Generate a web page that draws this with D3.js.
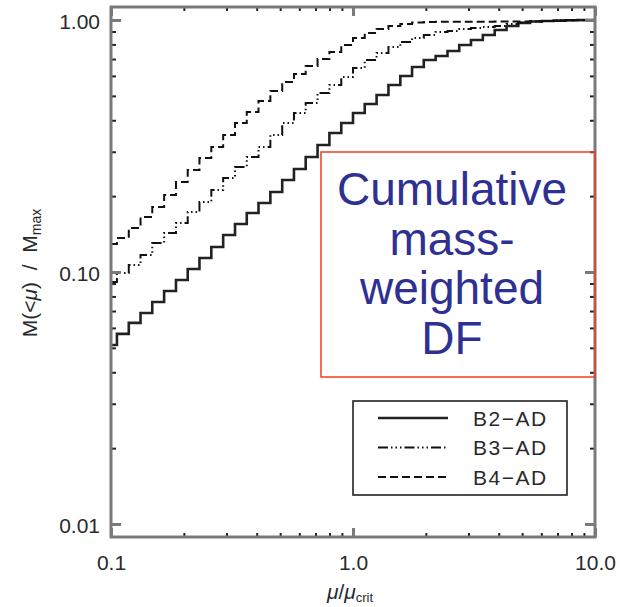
<!DOCTYPE html>
<html>
<head>
<meta charset="utf-8">
<script src="https://cdn.jsdelivr.net/npm/d3@7"></script>
<style>
  html, body { margin: 0; padding: 0; background: #fff; }
  svg { display: block; font-family: "Liberation Sans", Arial, sans-serif; }
</style>
</head>
<body>
<svg id="chart" width="620" height="607"></svg>
<script>
// log10(mu/mu_crit) of the histogram points
const logMu = [
  -1.000, -0.951, -0.902, -0.854, -0.805, -0.756, -0.707, -0.659, -0.610, -0.561,
  -0.512, -0.463, -0.415, -0.366, -0.317, -0.268, -0.220, -0.171, -0.122, -0.073,
  -0.024,  0.024,  0.073,  0.122,  0.171,  0.220,  0.268,  0.317,  0.366,  0.415,
   0.463,  0.512,  0.561,  0.610,  0.659,  0.707,  0.756,  0.805,  0.854,  0.902,
   0.951,  1.000
];

// M(<mu)/Mmax for each run
const b2ad = [
  0.0513, 0.0568, 0.0628, 0.0688, 0.0760, 0.0841, 0.0930, 0.1028, 0.1137, 0.1257,
  0.1402, 0.1550, 0.1714, 0.1878, 0.2077, 0.2318, 0.2563, 0.2860, 0.3191, 0.3560,
  0.3902, 0.4275, 0.4642, 0.5040, 0.5522, 0.5995, 0.6510, 0.6939, 0.7197, 0.7534,
  0.7962, 0.8329, 0.8720, 0.9128, 0.9467, 0.9730, 0.9864, 0.9909, 0.9945, 0.9973,
  0.9991, 1.0000
];
const b3ad = [
  0.0913, 0.0991, 0.1066, 0.1168, 0.1303, 0.1428, 0.1564, 0.1730, 0.1896, 0.2115,
  0.2360, 0.2610, 0.2860, 0.3133, 0.3496, 0.3902, 0.4275, 0.4686, 0.5133, 0.5522,
  0.5941, 0.6451, 0.6939, 0.7397, 0.7815, 0.8178, 0.8484, 0.8720, 0.8960, 0.9044,
  0.9211, 0.9295, 0.9381, 0.9467, 0.9641, 0.9774, 0.9864, 0.9909, 0.9945, 0.9973,
  0.9991, 1.0000
];
const b4ad = [
  0.1292, 0.1364, 0.1495, 0.1653, 0.1811, 0.2020, 0.2276, 0.2539, 0.2834, 0.3133,
  0.3496, 0.3902, 0.4314, 0.4771, 0.5228, 0.5675, 0.6105, 0.6569, 0.7003, 0.7465,
  0.7962, 0.8484, 0.8879, 0.9211, 0.9467, 0.9641, 0.9774, 0.9819, 0.9830, 0.9840,
  0.9840, 0.9850, 0.9850, 0.9860, 0.9860, 0.9870, 0.9880, 0.9910, 0.9940, 0.9970,
  0.9990, 1.0000
];

const seriesNames = ['B2\u2212AD', 'B3\u2212AD', 'B4\u2212AD'];

const xMajor = [0.1, 1, 10];
const xMajorLabels = ['0.1', '1.0', '10.0'];
const xMinor = [0.2, 0.3, 0.4, 0.5, 0.6, 0.7, 0.8, 0.9, 2, 3, 4, 5, 6, 7, 8, 9];
const yMajor = [0.01, 0.1, 1];
const yMajorLabels = ['0.01', '0.10', '1.00'];
const yMinor = [0.02, 0.03, 0.04, 0.05, 0.06, 0.07, 0.08, 0.09, 0.2, 0.3, 0.4, 0.5, 0.6, 0.7, 0.8, 0.9];

const noteLines = ['Cumulative', 'mass-', 'weighted', 'DF'];

// plot box
const L = 111, R = 595, T = 7, B = 537;
const AXIS_GRAY = '#7a7a7a';
const TEXT = '#2a2a2a';

const svg = d3.select('#chart');

const x = d3.scaleLog().domain([0.1, 10]).range([L, R]);
// y range is a little wider than 0.01..1 (IDL style padding)
const y = d3.scaleLog().domain([0.008881, 1.1260]).range([B, T]);

const styles = [
  { stroke: '#222', width: 2.6, dash: null },
  { stroke: '#111', width: 2, dash: '10,3,1.5,3,1.5,3,1.5,3' },
  { stroke: '#111', width: 2, dash: '8,4' }
];
const allSeries = [b2ad, b3ad, b4ad];

// curves (histogram-style steps)
const line = d3.line()
  .x(d => x(d.mu))
  .y(d => y(d.v))
  .curve(d3.curveStep);

allSeries.forEach((vals, k) => {
  const pts = vals.map((v, i) => ({ mu: Math.pow(10, logMu[i]), v }));
  svg.append('path')
    .datum(pts)
    .attr('fill', 'none')
    .attr('stroke', styles[k].stroke)
    .attr('stroke-width', styles[k].width)
    .attr('stroke-dasharray', styles[k].dash)
    .attr('d', line);
});

// ticks
function tickAxis(axisFn, scale, values, size, transform) {
  const g = svg.append('g')
    .attr('transform', transform)
    .call(axisFn(scale).tickValues(values).tickSize(size).tickFormat(''));
  g.select('.domain').remove();
  return g;
}

const minorStyle = g => g.selectAll('line').attr('stroke', '#222').attr('stroke-width', 2);
const majorStyle = g => g.selectAll('line').attr('stroke', AXIS_GRAY).attr('stroke-width', 3);

// minor ticks on all four sides
minorStyle(tickAxis(d3.axisBottom, x, xMinor, -4, `translate(0,${B})`));
minorStyle(tickAxis(d3.axisTop, x, xMinor, -4, `translate(0,${T})`));
minorStyle(tickAxis(d3.axisLeft, y, yMinor, -5, `translate(${L},0)`));
minorStyle(tickAxis(d3.axisRight, y, yMinor, -5, `translate(${R},0)`));

// major ticks with labels on bottom / left
const xAx = svg.append('g').attr('transform', `translate(0,${B})`)
  .call(d3.axisBottom(x).tickValues(xMajor).tickSize(-9).tickPadding(18.5)
    .tickFormat((d, i) => xMajorLabels[i]));
xAx.select('.domain').remove();
majorStyle(xAx);
xAx.selectAll('text').attr('font-size', 21).attr('fill', TEXT)
  .attr('font-family', '"Liberation Sans", Arial, sans-serif');

const yAx = svg.append('g').attr('transform', `translate(${L},0)`)
  .call(d3.axisLeft(y).tickValues(yMajor).tickSize(-10).tickPadding(11)
    .tickFormat((d, i) => yMajorLabels[i]));
yAx.select('.domain').remove();
majorStyle(yAx);
yAx.selectAll('text').attr('font-size', 21).attr('fill', TEXT).attr('dy', '0.42em')
  .attr('font-family', '"Liberation Sans", Arial, sans-serif');

majorStyle(tickAxis(d3.axisTop, x, xMajor, -9, `translate(0,${T})`));
majorStyle(tickAxis(d3.axisRight, y, yMajor, -10, `translate(${R},0)`));

// frame
svg.append('rect')
  .attr('x', L).attr('y', T)
  .attr('width', R - L).attr('height', B - T)
  .attr('fill', 'none')
  .attr('stroke', AXIS_GRAY)
  .attr('stroke-width', 3);

// axis titles
const xt = svg.append('text')
  .attr('x', 350).attr('y', 599)
  .attr('text-anchor', 'middle')
  .attr('font-size', 21)
  .attr('fill', TEXT);
xt.append('tspan').attr('font-style', 'italic').text('\u03bc');
xt.append('tspan').text('/');
xt.append('tspan').attr('font-style', 'italic').text('\u03bc');
xt.append('tspan').attr('font-size', 13).attr('dy', 3).text('crit');

const yt = svg.append('text')
  .attr('transform', 'translate(37,273) rotate(-90)')
  .attr('text-anchor', 'middle')
  .attr('font-size', 21)
  .attr('fill', TEXT)
  .attr('xml:space', 'preserve');
yt.append('tspan').text('M(<');
yt.append('tspan').attr('font-style', 'italic').text('\u03bc');
yt.append('tspan').text(')  /  M');
yt.append('tspan').attr('font-size', 14).attr('dy', 4).text('max');

// legend
const lg = svg.append('g');
lg.append('rect')
  .attr('x', 353).attr('y', 401)
  .attr('width', 214).attr('height', 94)
  .attr('fill', '#fff')
  .attr('stroke', '#222')
  .attr('stroke-width', 1.6);
const legendY = d3.scalePoint().domain(seriesNames).range([418, 477]);
seriesNames.forEach((name, k) => {
  lg.append('line')
    .attr('x1', 378).attr('x2', 448)
    .attr('y1', legendY(name)).attr('y2', legendY(name))
    .attr('stroke', styles[k].stroke)
    .attr('stroke-width', styles[k].width)
    .attr('stroke-dasharray', styles[k].dash);
  lg.append('text')
    .attr('x', 473).attr('y', legendY(name))
    .attr('dy', '0.36em')
    .attr('font-size', 21)
    .attr('letter-spacing', 1.5)
    .attr('fill', TEXT)
    .text(name);
});

// annotation box
svg.append('rect')
  .attr('x', 321).attr('y', 152)
  .attr('width', 274).attr('height', 225)
  .attr('fill', 'none')
  .attr('stroke', '#f03c1e')
  .attr('stroke-width', 1.5);

svg.append('g')
  .selectAll('text')
  .data(noteLines)
  .join('text')
  .attr('x', 452)
  .attr('y', (d, i) => 205 + i * 49.5)
  .attr('text-anchor', 'middle')
  .attr('font-size', 46)
  .attr('font-family', 'Arial, "Liberation Sans", sans-serif')
  .attr('fill', '#2e3192')
  .text(d => d);
</script>
</body>
</html>
